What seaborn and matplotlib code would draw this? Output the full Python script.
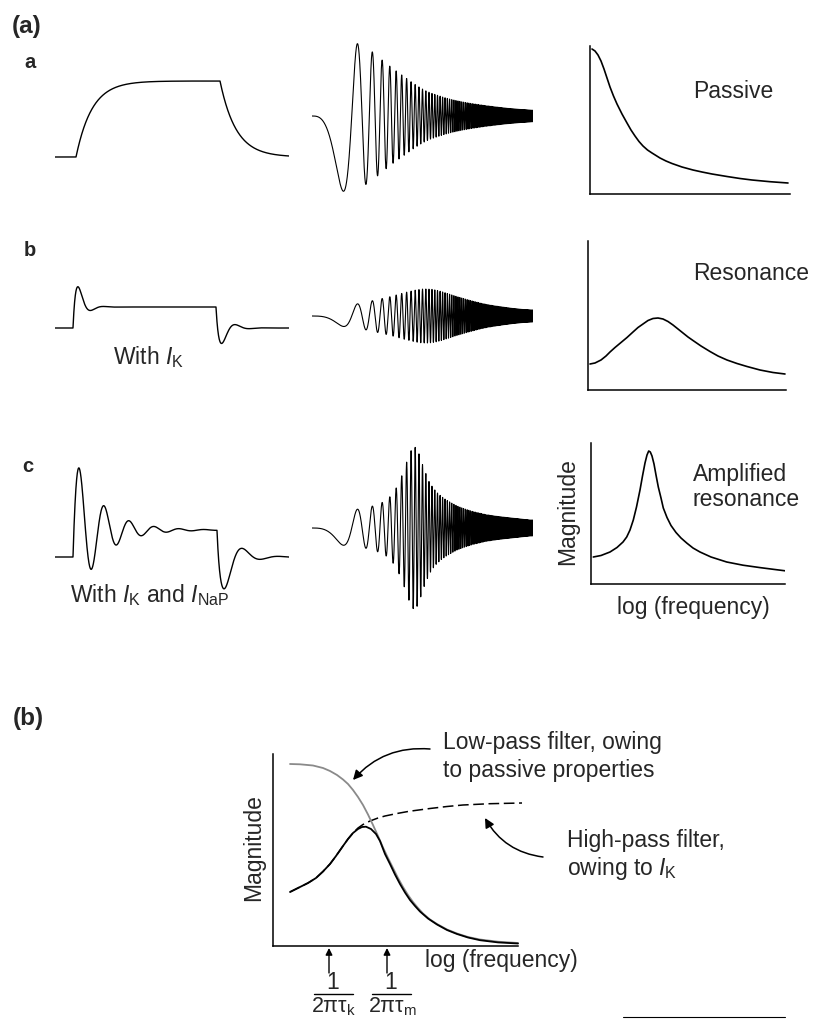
import numpy as np
import matplotlib
matplotlib.use("Agg")
import matplotlib.pyplot as plt
from matplotlib.lines import Line2D
from matplotlib.patches import FancyArrowPatch
import seaborn as sns

sns.set_style("white")
plt.rcParams['font.family'] = ['Liberation Sans', 'DejaVu Sans']
plt.rcParams['mathtext.fontset'] = 'custom'
plt.rcParams['mathtext.rm'] = 'Liberation Sans'
plt.rcParams['mathtext.it'] = 'Liberation Sans:italic'
plt.rcParams['mathtext.bf'] = 'Liberation Sans:bold'

# ---------------- data ----------------
row_labels = ["a", "b", "c"]
row_titles = ["Passive", "Resonance", "Amplified\nresonance"]
step_captions = ["", r"With $I_{\mathrm{K}}$", r"With $I_{\mathrm{K}}$ and $I_{\mathrm{NaP}}$"]

# current-step protocol and responses (time in ms, voltage in a.u.)
step_on = [21, 18, 18]
step_off = [165, 161, 162]
step_size = [76, 21, 27]
membrane_tau = [16, 2, 2]
on_ring_amp = [0, 48, 80]
on_ring_tau = [1, 7, 26]
on_ring_period = [1, 26, 25]
off_ring_amp = [0, 33.5, 58]
off_ring_tau = [1, 8.7, 13.7]
off_ring_period = [1, 28, 36]

# impedance magnitude (freq a.u., magnitude a.u.)
mag_a_freq = [0.2, 0.5, 0.8, 1.1, 1.4, 1.7, 2.0, 2.35, 2.7, 3.2, 3.7, 4.1, 4.5, 4.9, 5.3,
              5.75, 6.2, 6.6, 7.0, 7.6, 8.2, 9.2, 10.3, 11.2, 12.2, 13.7, 15.0, 16.2, 18.0, 19.8]
mag_a_amp = [145, 143, 139, 133, 125, 116, 107, 98, 90, 80, 71, 64, 58, 52.5, 48,
             44, 41, 38.5, 36, 33, 30.5, 27, 24, 22, 20, 17.5, 15.5, 14, 12.3, 11]
mag_b_freq = [0.2, 0.7, 1.3, 1.8, 2.2, 2.7, 3.3, 3.9, 4.5, 5.0, 5.5, 6.0, 6.5, 7.0, 7.5, 8.0,
              8.5, 9.0, 9.5, 10.0, 10.5, 11.3, 12.2, 13.0, 13.9, 14.9, 15.9, 17.2, 18.5, 19.7]
mag_b_amp = [26, 27, 30, 34, 38, 42.5, 47.5, 52.5, 58, 62.5, 66, 69.5, 71.5, 72, 71, 68.5,
             65, 61, 57, 53, 49.5, 44, 38.5, 34, 30, 26.5, 23.5, 20, 17.5, 16]
mag_c_freq = [0.23, 1.0, 1.9, 2.6, 3.2, 3.57, 3.9, 4.23, 4.55, 4.9, 5.15, 5.4, 5.6, 5.77, 5.93,
              6.1, 6.3, 6.5, 6.73, 7.0, 7.23, 7.6, 8.0, 8.5, 9.0, 9.57, 10.2, 10.9, 12.0,
              13.57, 15.2, 16.9, 18.3, 19.57]
mag_c_amp = [27, 28.5, 32, 36.5, 42, 47, 54, 64, 77, 94, 108, 121, 129, 133, 132,
             128, 120, 109, 97, 86, 76, 66.5, 58.5, 51.5, 46, 41, 36, 32, 27,
             22, 18.8, 16.4, 14.6, 13]
mag_freqs = [mag_a_freq, mag_b_freq, mag_c_freq]
mag_amps = [mag_a_amp, mag_b_amp, mag_c_amp]

# ZAP (chirp) stimulus: sweeps 0 -> 20 (freq a.u.), 86 cycles
chirp_duration = 221
chirp_cycles = 86
chirp_fmax = 20
chirp_env_exponent = [2.0, 1.6, 1.6]
chirp_gain = [0.524, 0.375, 0.61]

# panel (b): filters
lp_freq = [1.7, 2.7, 4.0, 5.0, 5.7, 6.4, 7.0, 7.5, 8.0, 8.5, 9.0, 9.5, 10.0, 10.5, 11.0, 11.5,
           12.0, 12.5, 13.0, 13.5, 14.0, 14.5, 15.0, 15.7, 16.4, 17.4, 18.4, 19.5, 20.7, 22.5, 24.5]
lp_amp = [182, 181.7, 180.5, 178, 175, 171, 166.5, 162, 156, 149, 141, 131.5, 121, 110, 98.5, 88,
          78, 68, 59, 51, 44, 38, 32.5, 26.5, 22, 16.5, 12.5, 9, 6.5, 4.3, 3]
res_freq = [1.7, 2.7, 3.5, 4.3, 5.0, 5.7, 6.3, 7.0, 7.5, 8.0, 8.5, 8.9, 9.3, 9.8, 10.3, 10.7,
            11.2, 11.7, 12.2, 12.7, 13.2, 13.7, 14.2, 14.7, 15.5, 16.4, 17.4, 18.4, 19.5, 20.7,
            22.5, 24.5]
res_amp = [54, 59, 63, 68, 74.5, 82, 90, 100, 107, 113, 117, 119, 119.3, 117, 112, 105,
           92, 82, 71.5, 62, 53.5, 46, 40, 34.5, 27.5, 21.5, 16, 12, 8.5, 5.8,
           3.6, 2.5]
hp_freq = [1.7, 2.7, 3.5, 4.3, 5.0, 5.7, 6.3, 7.0, 7.5, 8.0, 8.5, 9.0, 9.7, 10.5, 11.2, 12.4,
           13.5, 14.2, 15.7, 17.4, 19.0, 21.7, 24.9]
hp_amp = [54, 59, 63, 68, 74.5, 82, 90, 100, 107, 113, 118, 121.5, 125, 128, 130, 132.5,
          134.5, 135.5, 137.5, 139.5, 141, 142.3, 143]

# ---------------- figure ----------------
W, H = 827, 1021
fig = plt.figure(figsize=(W / 100, H / 100), dpi=100)


def px_axes(x0, x1, y0, y1):
    ax = fig.add_axes([x0 / W, 1 - y1 / H, (x1 - x0) / W, (y1 - y0) / H])
    ax.set_facecolor('none')
    return ax


def fpos(x, y):
    return (x / W, 1 - y / H)


def ftext(x, y, s, **kw):
    fig.text(x / W, 1 - y / H, s, **kw)


def add_line(ax, x, y, **kw):
    sns.lineplot(x=np.asarray(x, float), y=np.asarray(y, float), ax=ax,
                 estimator=None, sort=False, legend=False, **kw)


def mag_axes(ax):
    sns.despine(ax=ax)
    for s in ['left', 'bottom']:
        ax.spines[s].set_color('black')
        ax.spines[s].set_linewidth(1.1)
    ax.set_xticks([])
    ax.set_yticks([])
    ax.set_xlabel('')
    ax.set_ylabel('')


LBL = 16.5

# layout boxes (pixels)
step_boxes = [(55, 289, 40, 200, 157), (55, 289, 270, 360, 328), (55, 289, 450, 600, 557)]
chirp_boxes = [(312, 533, 30, 200, 116), (312, 533, 270, 360, 316), (312, 533, 430, 620, 528)]
mag_boxes = [(590, 790, 46, 194), (588, 786, 241, 390), (591, 785, 443, 584)]

t = np.linspace(0, 234, 4000)
tc = np.linspace(0, chirp_duration, 40000)

for i in range(3):
    # --- step response ---
    x0, x1, y0, y1, base = step_boxes[i]
    ax = px_axes(x0, x1, y0, y1)
    on, off = step_on[i], step_off[i]
    tau = membrane_tau[i]
    lvl = np.zeros_like(t)
    m_on = (t >= on) & (t < off)
    lvl[m_on] = step_size[i] * (1 - np.exp(-(t[m_on] - on) / tau))
    v_off = step_size[i] * (1 - np.exp(-(off - on) / tau))
    m_off = t >= off
    lvl[m_off] = v_off * np.exp(-(t[m_off] - off) / tau)
    ring = np.zeros_like(t)
    d = t[t >= on] - on
    ring[t >= on] += on_ring_amp[i] * np.exp(-d / on_ring_tau[i]) * np.sin(2 * np.pi * d / on_ring_period[i])
    d = t[m_off] - off
    ring[m_off] -= off_ring_amp[i] * np.exp(-d / off_ring_tau[i]) * np.sin(2 * np.pi * d / off_ring_period[i])
    add_line(ax, t, lvl + ring, color='black', lw=1.0)
    ax.set_xlim(0, 234)
    ax.set_ylim(base - y1, base - y0)
    ax.axis('off')

    # --- chirp response ---
    x0, x1, y0, y1, base = chirp_boxes[i]
    ax = px_axes(x0, x1, y0, y1)
    u = tc / chirp_duration
    f_inst = chirp_fmax * u ** chirp_env_exponent[i]
    env = chirp_gain[i] * np.interp(f_inst, mag_freqs[i], mag_amps[i])
    sig = -env * np.sin(2 * np.pi * chirp_cycles * u ** 3)
    add_line(ax, tc, sig, color='black', lw=0.8)
    ax.set_xlim(0, chirp_duration)
    ax.set_ylim(base - y1, base - y0)
    ax.axis('off')

    # --- impedance magnitude ---
    x0, x1, y0, y1 = mag_boxes[i]
    ax = px_axes(x0, x1, y0, y1)
    add_line(ax, mag_freqs[i], mag_amps[i], color='black', lw=1.2)
    ax.lines[-1].set_solid_joinstyle('round')
    ax.set_xlim(0, (x1 - x0) / 10)
    ax.set_ylim(0, y1 - y0)
    mag_axes(ax)

# row texts
ftext(12, 27, "(a)", fontsize=17.5, fontweight='bold', ha='left', va='center')
label_pos = [(30, 62), (30, 250), (28, 467)]
for (lx, ly), lab in zip(label_pos, row_labels):
    ftext(lx, ly, lab, fontsize=14.5, fontweight='bold', ha='center', va='center')
title_pos = [(693, 91), (693, 273), (693, 487)]
for (tx, ty), tt in zip(title_pos, row_titles):
    ftext(tx, ty, tt, fontsize=LBL, ha='left', va='center', linespacing=1.15)
ftext(148, 357, step_captions[1], fontsize=LBL, ha='center', va='center')
ftext(150, 595, step_captions[2], fontsize=LBL, ha='center', va='center')
ftext(568, 512, "Magnitude", fontsize=LBL, ha='center', va='center', rotation=90)
ftext(693, 607, "log (frequency)", fontsize=LBL, ha='center', va='center')

# ---------------- panel (b) ----------------
ftext(13, 718, "(b)", fontsize=17.5, fontweight='bold', ha='left', va='center')
ax = px_axes(273, 518, 754, 946)
add_line(ax, hp_freq, hp_amp, color='black', lw=1.1)
ax.lines[-1].set_dashes((7, 3))
add_line(ax, lp_freq, lp_amp, color='#8a8a8a', lw=1.3)
add_line(ax, res_freq, res_amp, color='black', lw=1.3)
for ln in ax.lines:
    ln.set_clip_on(False)
    ln.set_solid_joinstyle('round')
ax.set_xlim(0, 24.5)
ax.set_ylim(0, 192)
mag_axes(ax)

ftext(254, 848, "Magnitude", fontsize=LBL, ha='center', va='center', rotation=90)
ftext(501, 960, "log (frequency)", fontsize=LBL, ha='center', va='center')
ftext(443, 742, "Low-pass filter, owing", fontsize=LBL, ha='left', va='center')
ftext(443, 770, "to passive properties", fontsize=LBL, ha='left', va='center')
ftext(567, 840, "High-pass filter,", fontsize=LBL, ha='left', va='center')
ftext(567, 868, r"owing to $I_{\mathrm{K}}$", fontsize=LBL, ha='left', va='center')

arw = dict(arrowstyle='-|>', color='black', lw=1.1, mutation_scale=14, shrinkA=0, shrinkB=0)
fig.add_artist(FancyArrowPatch(posA=fpos(430, 749), posB=fpos(353, 780), transform=fig.transFigure,
                               connectionstyle='arc3,rad=0.25', **arw))
fig.add_artist(FancyArrowPatch(posA=fpos(543, 857), posB=fpos(485, 818), transform=fig.transFigure,
                               connectionstyle='arc3,rad=-0.25', **arw))

# time-constant markers
frac_x = [333, 391]
frac_den = ["2πτ$_{\\mathrm{k}}$", "2πτ$_{\\mathrm{m}}$"]
arrow_x = [329, 387]
for fx, axx, den in zip(frac_x, arrow_x, frac_den):
    fig.add_artist(FancyArrowPatch(posA=fpos(axx, 973), posB=fpos(axx, 948), transform=fig.transFigure,
                                   arrowstyle='-|>', color='black', lw=1.0, mutation_scale=10,
                                   shrinkA=0, shrinkB=0))
    ftext(fx, 982, "1", fontsize=LBL, ha='center', va='center')
    fig.add_artist(Line2D([(fx - 19.5) / W, (fx + 19.5) / W], [1 - 994 / H, 1 - 994 / H],
                          color='black', lw=1.0, transform=fig.transFigure))
    ftext(fx + 1, 1007, den, fontsize=15.5, ha='center', va='center')

fig.add_artist(Line2D([623 / W, 785 / W], [1 - 1017 / H, 1 - 1017 / H],
                      color='black', lw=0.8, transform=fig.transFigure))

fig.savefig("out.png", dpi=100)
